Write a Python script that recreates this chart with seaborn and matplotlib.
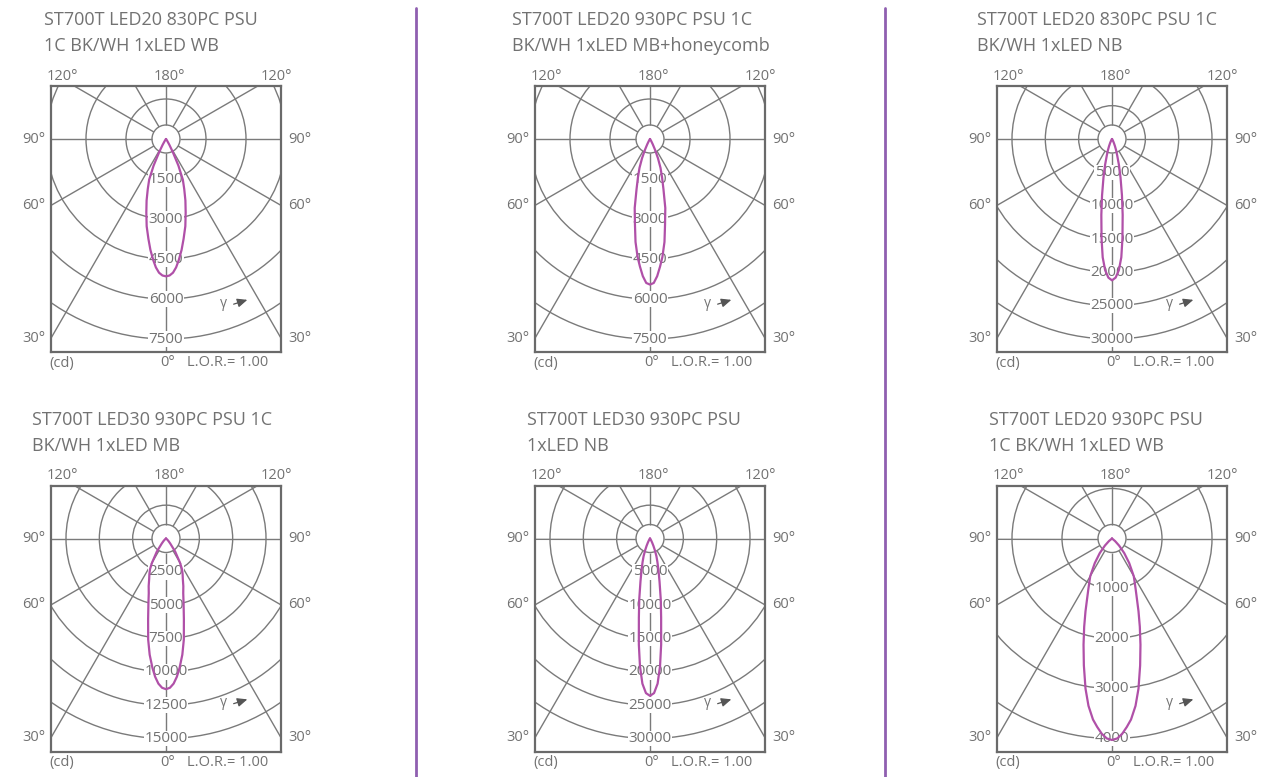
import numpy as np
import pandas as pd
import matplotlib
matplotlib.use("Agg")
import matplotlib.pyplot as plt
from matplotlib.patches import Circle
from matplotlib.lines import Line2D
import seaborn as sns

# ---------------- data ----------------
title_line1 = ["ST700T LED20 830PC PSU", "ST700T LED20 930PC PSU 1C", "ST700T LED20 830PC PSU 1C",
               "ST700T LED30 930PC PSU 1C", "ST700T LED30 930PC PSU", "ST700T LED20 930PC PSU"]
title_line2 = ["1C BK/WH 1xLED WB", "BK/WH 1xLED MB+honeycomb", "BK/WH 1xLED NB",
               "BK/WH 1xLED MB", "1xLED NB", "1C BK/WH 1xLED WB"]

gamma_deg = [0, 1.5, 3, 4.5, 6, 8, 10, 12.5, 15, 17.5, 20, 22.5, 25, 27.5, 30, 35, 40, 45, 50, 60, 90]

cd_p1 = [5150, 5120, 5020, 4830, 4570, 4200, 3800, 3350, 2850, 2420, 2000, 1650, 1100, 550, 250, 60, 20, 0, 0, 0, 0]
cd_p2 = [5460, 5400, 5150, 4800, 4450, 3900, 3250, 2650, 1950, 1500, 1150, 780, 450, 220, 100, 30, 0, 0, 0, 0, 0]
cd_p3 = [21200, 20800, 19700, 17800, 15000, 11500, 8600, 5900, 4000, 2600, 1800, 1150, 700, 400, 250, 120, 60, 20, 0, 0, 0]
cd_p4 = [11300, 11200, 10900, 10400, 9750, 8800, 7700, 6200, 5100, 4300, 3800, 3300, 2950, 2600, 2100, 1200, 500, 250, 100, 0, 0]
cd_p5 = [23600, 23200, 21800, 19200, 16000, 12000, 9300, 6600, 4900, 3700, 2800, 1900, 1200, 700, 400, 180, 80, 30, 0, 0, 0]
cd_p6 = [4030, 4000, 3910, 3780, 3640, 3380, 3050, 2600, 2200, 1850, 1550, 1300, 1120, 980, 870, 600, 380, 200, 80, 0, 0]
intensities = [cd_p1, cd_p2, cd_p3, cd_p4, cd_p5, cd_p6]

ring_step = [1500, 1500, 5000, 2500, 5000, 1000]
ring_count = [5, 5, 6, 6, 6, 4]

angle_labels_side = ["90", "60", "30"]
side_angles = [90, 60, 30]
lor_text = "L.O.R.= 1.00"

# ---------------- style ----------------
sns.set_theme(style="white")
plt.rcParams["font.family"] = ["Open Sans", "DejaVu Sans"]

GRAY_TXT = "#727272"
GRID = "#7a7a7a"
FRAME = "#6a6a6a"
CURVE = "#b050a8"
SEP = "#8f5fb0"

W, H = 1280, 777
fig = plt.figure(figsize=(12.8, 7.77), dpi=100)
fig.patch.set_facecolor("white")

centers_x = [166, 650, 1112, 166, 650, 1112]
centers_y = [139, 139, 139, 538.5, 538.5, 538.5]
title_x = [44, 512, 977, 32, 527, 989]
BOX_L, BOX_R, BOX_T, BOX_B = 115, 115, 53, 213
R_PX = 200.0
INNER_PX = 14.0

for i in range(6):
    cx, cy = centers_x[i], centers_y[i]
    left = (cx - BOX_L) / W
    bottom = 1 - (cy + BOX_B) / H
    ax = fig.add_axes([left, bottom, (BOX_L + BOX_R) / W, (BOX_T + BOX_B) / H])
    u = ring_step[i] * ring_count[i] / R_PX  # cd per pixel
    ax.set_xlim(-BOX_L * u, BOX_R * u)
    ax.set_ylim(-BOX_B * u, BOX_T * u)
    for s in ax.spines.values():
        s.set_color(FRAME); s.set_linewidth(1.6); s.set_visible(True)
    ax.set_facecolor("white")

    # rings
    ax.add_patch(Circle((0, 0), INNER_PX * u, fill=False, ec=GRID, lw=1.0, zorder=1))
    for k in range(1, ring_count[i] + 1):
        ax.add_patch(Circle((0, 0), ring_step[i] * k, fill=False, ec=GRID, lw=1.0, zorder=1))
    # radial lines
    for a in range(0, 360, 30):
        t = np.radians(a)
        r0, r1 = INNER_PX * u, 600 * u
        ax.plot([r0 * np.sin(t), r1 * np.sin(t)], [-r0 * np.cos(t), -r1 * np.cos(t)],
                color=GRID, lw=1.0, zorder=1, solid_capstyle="butt")
    # ring labels
    for k in range(1, ring_count[i] + 1):
        ax.text(0, -ring_step[i] * k, f"{ring_step[i] * k}", ha="center", va="center",
                fontsize=11, color=GRAY_TXT, zorder=3,
                bbox=dict(boxstyle="square,pad=0.02", fc="white", ec="none"))

    # curve
    g = np.array(gamma_deg, dtype=float)
    I = np.array(intensities[i], dtype=float)
    gg = np.concatenate([-g[::-1], g[1:]])
    II = np.concatenate([I[::-1], I[1:]])
    df = pd.DataFrame({"x": II * np.sin(np.radians(gg)), "y": -II * np.cos(np.radians(gg))})
    sns.lineplot(data=df, x="x", y="y", sort=False, estimator=None, ax=ax,
                 color=CURVE, lw=1.6, zorder=4, solid_joinstyle="round")
    ax.set_xlabel(""); ax.set_ylabel("")
    ax.set_xticks([]); ax.set_yticks([])

    # angle labels (positions in px relative to centre)
    def T(px, py, s, ha="center", va="center", size=10.5):
        ax.text(px * u, -py * u, s, ha=ha, va=va, fontsize=size, color=GRAY_TXT, clip_on=False)

    T(-104, -63, "120°")
    T(3, -63, "180°")
    T(110, -63, "120°")
    for lab, a in zip(angle_labels_side, side_angles):
        yy = BOX_L / np.tan(np.radians(a)) if a != 90 else 0
        T(-121, yy, lab + "°", ha="right")
        T(122, yy, lab + "°", ha="left")
    T(-117, 224, "(cd)", ha="left")
    T(2, 224, "0°")
    T(21, 224, lor_text, ha="left")
    T(57, 164, "γ", size=10)
    ax.annotate("", xy=(84 * u, -160 * u), xytext=(65 * u, -166 * u),
                arrowprops=dict(arrowstyle="-|>,head_length=0.5,head_width=0.22", color="#555555", lw=0.9),
                annotation_clip=False)

    # titles
    base = 25 if i < 3 else 425
    fig.text(title_x[i] / W, 1 - base / H, title_line1[i], ha="left", va="baseline",
             fontsize=13, color=GRAY_TXT)
    fig.text(title_x[i] / W, 1 - (base + 26) / H, title_line2[i], ha="left", va="baseline",
             fontsize=13, color=GRAY_TXT)

# separators
for xs in [416, 885]:
    fig.add_artist(Line2D([xs / W, xs / W], [1 - 8 / H, 0], transform=fig.transFigure,
                          color=SEP, lw=2.0))

fig.savefig("out.png", dpi=100, facecolor="white")
